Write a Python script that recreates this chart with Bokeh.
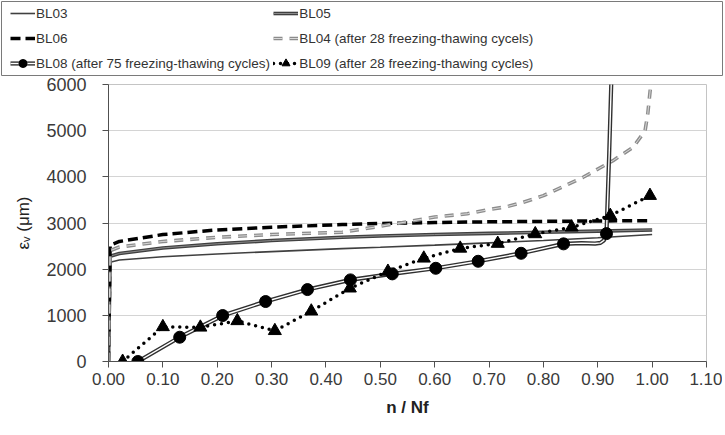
from bokeh.plotting import figure
from bokeh.models import (Legend, LegendItem, NumeralTickFormatter, FixedTicker, Range1d)
from bokeh.embed import file_html
from bokeh.resources import INLINE

# ---------------- data ----------------
x_ticks = [0.0, 0.1, 0.2, 0.3, 0.4, 0.5, 0.6, 0.7, 0.8, 0.9, 1.0, 1.1]
y_ticks = [0, 1000, 2000, 3000, 4000, 5000, 6000]

bl03_x = [0.0, 0.003, 0.02, 0.1, 0.2, 0.3, 0.43, 0.5, 0.6, 0.7, 0.8, 0.9, 1.0]
bl03_y = [0, 2150, 2200, 2270, 2330, 2380, 2445, 2475, 2520, 2570, 2620, 2680, 2750]

bl05_x = [0.0, 0.003, 0.02, 0.1, 0.2, 0.3, 0.43, 0.5, 0.6, 0.7, 0.8, 0.9, 1.0]
bl05_y = [0, 2280, 2340, 2460, 2550, 2620, 2690, 2720, 2750, 2775, 2800, 2825, 2850]

bl06_x = [0.0, 0.003, 0.02, 0.1, 0.2, 0.3, 0.43, 0.5, 0.6, 0.7, 0.8, 0.9, 1.0]
bl06_y = [0, 2520, 2600, 2750, 2850, 2910, 2965, 2990, 3010, 3025, 3035, 3045, 3050]

bl04_x = [0.0, 0.003, 0.02, 0.1, 0.2, 0.3, 0.43, 0.5, 0.555, 0.6, 0.66, 0.7, 0.733,
          0.763, 0.8, 0.873, 0.928, 0.965, 0.987, 0.992, 0.997, 1.0]
bl04_y = [0, 2400, 2480, 2600, 2690, 2750, 2800, 2930, 3037, 3130, 3200, 3290, 3355,
          3448, 3593, 3990, 4350, 4640, 5000, 5370, 5940, 6500]

bl08_x = [0.054, 0.131, 0.210, 0.289, 0.366, 0.445, 0.522, 0.602, 0.680, 0.759, 0.837,
          0.870, 0.895, 0.905, 0.911, 0.914, 0.916, 0.921, 0.926]
bl08_y = [0, 526, 996, 1299, 1558, 1768, 1898, 2019, 2171, 2344, 2548,
          2565, 2555, 2570, 2620, 2700, 2770, 4500, 6500]
bl08_mx = [0.054, 0.131, 0.210, 0.289, 0.366, 0.445, 0.522, 0.602, 0.680, 0.759, 0.837, 0.916]
bl08_my = [0, 526, 996, 1299, 1558, 1768, 1898, 2019, 2171, 2344, 2548, 2770]

bl09_x = [0.026, 0.100, 0.169, 0.237, 0.306, 0.373, 0.444, 0.514, 0.580, 0.647, 0.716,
          0.785, 0.852, 0.923, 0.996]
bl09_y = [0, 750, 740, 880, 665, 1089, 1587, 1950, 2235, 2450, 2555, 2763, 2907, 3160, 3593]

labels = ["BL03", "BL05", "BL06",
          "BL04 (after 28 freezing-thawing cycels)",
          "BL08 (after 75 freezing-thawing cycles)",
          "BL09 (after 28 freezing-thawing cycles)"]

FONT = "Liberation Sans"
DARK = "#404040"

# styles shared by the chart and its legend samples
S03 = dict(line_color=DARK, line_width=1.6)
S05A = dict(line_color=DARK, line_width=3.6)
S05B = dict(line_color="#8a8a8a", line_width=1.0)
S06 = dict(line_color="black", line_width=3.5, line_dash="10 5")
S04A = dict(line_color="#8c8c8c", line_width=3.6, line_dash="9 7")
S04B = dict(line_color="#d8d8d8", line_width=1.0, line_dash="9 7")
S08A = dict(line_color="#303030", line_width=4.2)
S08B = dict(line_color="white", line_width=1.4)
S08M = dict(marker="circle", size=12, fill_color="black", line_color="black")
S09 = dict(line_color="black", line_width=3.5, line_dash="0 7", line_cap="round")
S09M = dict(marker="triangle", size=13, fill_color="black", line_color="black")


def draw_series(fig):
    r = {}
    r["03"] = [fig.line(bl03_x, bl03_y, **S03)]
    r["05"] = [fig.line(bl05_x, bl05_y, **S05A), fig.line(bl05_x, bl05_y, **S05B)]
    r["06"] = [fig.line(bl06_x, bl06_y, **S06)]
    r["04"] = [fig.line(bl04_x, bl04_y, **S04A), fig.line(bl04_x, bl04_y, **S04B)]
    r["08"] = [fig.line(bl08_x, bl08_y, **S08A), fig.line(bl08_x, bl08_y, **S08B),
               fig.scatter(bl08_mx, bl08_my, **S08M)]
    r["09"] = [fig.line(bl09_x, bl09_y, **S09), fig.scatter(bl09_x, bl09_y, **S09M)]
    return r


# ---------------- legend panel (box across the top) ----------------
lf = figure(width=723, height=76, output_backend="svg", toolbar_location=None,
            x_axis_type=None, y_axis_type=None,
            x_range=Range1d(0, 1.1), y_range=Range1d(-20000, -10000),
            min_border_left=1, min_border_right=1, min_border_top=1,
            min_border_bottom=1, outline_line_color="#7a7a7a",
            outline_line_width=1, background_fill_color="white",
            border_fill_color="white")
lf.grid.visible = False
g = draw_series(lf)   # same series; the panel's range keeps them out of view

items = [
    LegendItem(label=labels[0], renderers=g["03"]),
    LegendItem(label=labels[2], renderers=g["06"]),
    LegendItem(label=labels[4], renderers=g["08"]),
    LegendItem(label=labels[1], renderers=g["05"]),
    LegendItem(label=labels[3], renderers=g["04"]),
    LegendItem(label=labels[5], renderers=g["09"]),
]
legend = Legend(items=items, location=(8, 0), ncols=2,
                label_text_font=FONT, label_text_font_size="13.5px",
                label_text_color="#333333", glyph_width=25, glyph_height=20,
                label_height=22, spacing=3, padding=1, margin=0,
                label_standoff=1, border_line_alpha=0,
                background_fill_alpha=0)
lf.add_layout(legend, "center")

# ---------------- main chart ----------------
p = figure(width=722, height=354, output_backend="svg", toolbar_location=None,
           x_range=Range1d(0, 1.10), y_range=Range1d(0, 6000),
           min_border_left=108, min_border_right=16, min_border_top=8,
           min_border_bottom=69, background_fill_color="white",
           border_fill_color="white")
draw_series(p)

p.xaxis.ticker = FixedTicker(ticks=x_ticks)
p.yaxis.ticker = FixedTicker(ticks=y_ticks)
p.xaxis.formatter = NumeralTickFormatter(format="0.00")
for ax in (p.xaxis[0], p.yaxis[0]):
    ax.axis_line_color = "#505050"
    ax.axis_line_width = 1
    ax.major_tick_line_color = "#505050"
    ax.major_tick_in = 0
    ax.major_tick_out = 6
    ax.minor_tick_line_color = None
    ax.major_label_text_font = FONT
    ax.major_label_text_color = "#3a3a3a"
    ax.axis_label_text_font = FONT
    ax.axis_label_text_font_size = "17px"
    ax.axis_label_text_color = "#222222"
p.xaxis.major_label_text_font_size = "17px"
p.yaxis.major_label_text_font_size = "18px"
p.xaxis.major_label_standoff = 5
p.yaxis.major_label_standoff = 16
p.xaxis.axis_label = "n / Nf"
p.xaxis.axis_label_text_font_style = "bold"
p.xaxis.axis_label_standoff = 10
p.yaxis.axis_label = "εᵥ (μm)"
p.yaxis.axis_label_text_font_style = "normal"
p.yaxis.axis_label_standoff = 10

p.xgrid.visible = False
p.ygrid.grid_line_color = "#d4d4d4"
p.ygrid.grid_line_width = 1
p.outline_line_color = "#c4c4c4"
p.outline_line_width = 1

# two separate roots, stacked, so the legend box is not aligned to the chart frame
open("out.html", "w").write(file_html([lf, p], INLINE))
